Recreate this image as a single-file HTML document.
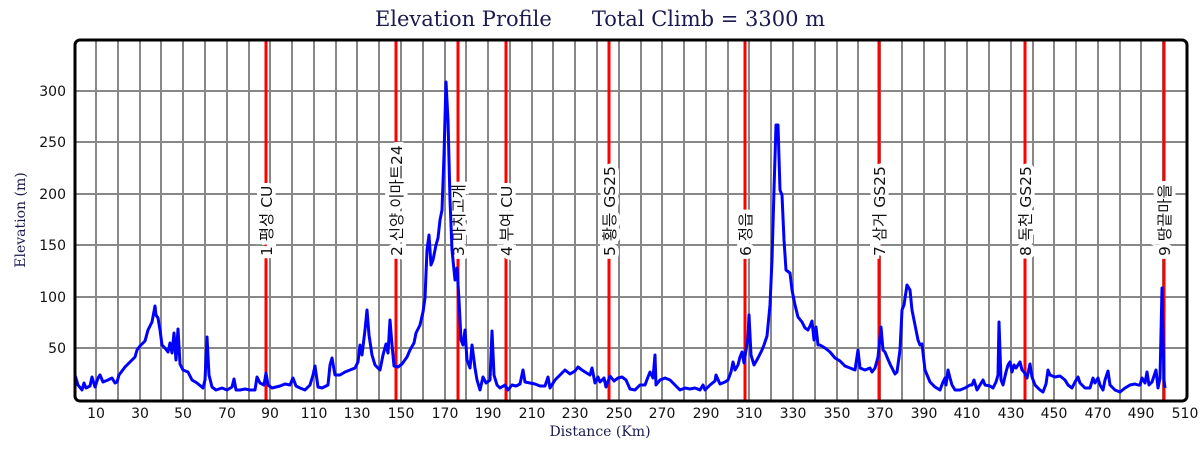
<!DOCTYPE html>
<html><head><meta charset="utf-8"><style>html,body{margin:0;padding:0;background:#fff;}svg{display:block}</style></head>
<body>
<svg width="1200" height="450" viewBox="0 0 1200 450" xmlns="http://www.w3.org/2000/svg">
<rect width="1200" height="450" fill="#fff"/>
<text x="600" y="26" text-anchor="middle" font-family="DejaVu Serif, serif" font-size="21" fill="#1a1a50" style="white-space:pre">Elevation Profile      Total Climb = 3300 m</text>
<g stroke="#888" stroke-width="2">
<line x1="96" y1="40" x2="96" y2="400"/><line x1="118" y1="40" x2="118" y2="400"/><line x1="140" y1="40" x2="140" y2="400"/><line x1="161" y1="40" x2="161" y2="400"/><line x1="183" y1="40" x2="183" y2="400"/><line x1="205" y1="40" x2="205" y2="400"/><line x1="227" y1="40" x2="227" y2="400"/><line x1="249" y1="40" x2="249" y2="400"/><line x1="270" y1="40" x2="270" y2="400"/><line x1="292" y1="40" x2="292" y2="400"/><line x1="314" y1="40" x2="314" y2="400"/><line x1="336" y1="40" x2="336" y2="400"/><line x1="357" y1="40" x2="357" y2="400"/><line x1="379" y1="40" x2="379" y2="400"/><line x1="401" y1="40" x2="401" y2="400"/><line x1="423" y1="40" x2="423" y2="400"/><line x1="445" y1="40" x2="445" y2="400"/><line x1="466" y1="40" x2="466" y2="400"/><line x1="488" y1="40" x2="488" y2="400"/><line x1="510" y1="40" x2="510" y2="400"/><line x1="532" y1="40" x2="532" y2="400"/><line x1="553" y1="40" x2="553" y2="400"/><line x1="575" y1="40" x2="575" y2="400"/><line x1="597" y1="40" x2="597" y2="400"/><line x1="619" y1="40" x2="619" y2="400"/><line x1="641" y1="40" x2="641" y2="400"/><line x1="662" y1="40" x2="662" y2="400"/><line x1="684" y1="40" x2="684" y2="400"/><line x1="706" y1="40" x2="706" y2="400"/><line x1="728" y1="40" x2="728" y2="400"/><line x1="749" y1="40" x2="749" y2="400"/><line x1="771" y1="40" x2="771" y2="400"/><line x1="793" y1="40" x2="793" y2="400"/><line x1="815" y1="40" x2="815" y2="400"/><line x1="837" y1="40" x2="837" y2="400"/><line x1="858" y1="40" x2="858" y2="400"/><line x1="880" y1="40" x2="880" y2="400"/><line x1="902" y1="40" x2="902" y2="400"/><line x1="924" y1="40" x2="924" y2="400"/><line x1="945" y1="40" x2="945" y2="400"/><line x1="967" y1="40" x2="967" y2="400"/><line x1="989" y1="40" x2="989" y2="400"/><line x1="1011" y1="40" x2="1011" y2="400"/><line x1="1033" y1="40" x2="1033" y2="400"/><line x1="1054" y1="40" x2="1054" y2="400"/><line x1="1076" y1="40" x2="1076" y2="400"/><line x1="1098" y1="40" x2="1098" y2="400"/><line x1="1120" y1="40" x2="1120" y2="400"/><line x1="1141" y1="40" x2="1141" y2="400"/><line x1="1163" y1="40" x2="1163" y2="400"/>
<line x1="75" y1="91" x2="1187" y2="91"/><line x1="75" y1="142" x2="1187" y2="142"/><line x1="75" y1="194" x2="1187" y2="194"/><line x1="75" y1="245" x2="1187" y2="245"/><line x1="75" y1="297" x2="1187" y2="297"/><line x1="75" y1="348" x2="1187" y2="348"/>
</g>
<g stroke="#f00" stroke-width="3">
<line x1="266" y1="40" x2="266" y2="400"/><line x1="396" y1="40" x2="396" y2="400"/><line x1="458" y1="40" x2="458" y2="400"/><line x1="506" y1="40" x2="506" y2="400"/><line x1="609" y1="40" x2="609" y2="400"/><line x1="745" y1="40" x2="745" y2="400"/><line x1="879" y1="40" x2="879" y2="400"/><line x1="1025" y1="40" x2="1025" y2="400"/><line x1="1164" y1="40" x2="1164" y2="400"/>
</g>
<g font-family="DejaVu Sans, Noto Sans CJK KR, sans-serif" font-size="15.5" fill="#111">
<g transform="translate(272,256) rotate(-90)"><text x="0" y="0" style="paint-order:stroke" stroke="#fff" stroke-width="8">1 평성 CU</text></g>
<g transform="translate(402,256) rotate(-90)"><text x="0" y="0" style="paint-order:stroke" stroke="#fff" stroke-width="8">2 신양 이마트24</text></g>
<g transform="translate(464,256) rotate(-90)"><text x="0" y="0" style="paint-order:stroke" stroke="#fff" stroke-width="8">3 마치고개</text></g>
<g transform="translate(512,256) rotate(-90)"><text x="0" y="0" style="paint-order:stroke" stroke="#fff" stroke-width="8">4 부여 CU</text></g>
<g transform="translate(615,256) rotate(-90)"><text x="0" y="0" style="paint-order:stroke" stroke="#fff" stroke-width="8">5 황등 GS25</text></g>
<g transform="translate(751,256) rotate(-90)"><text x="0" y="0" style="paint-order:stroke" stroke="#fff" stroke-width="8">6 정읍</text></g>
<g transform="translate(885,256) rotate(-90)"><text x="0" y="0" style="paint-order:stroke" stroke="#fff" stroke-width="8">7 삼거 GS25</text></g>
<g transform="translate(1031,256) rotate(-90)"><text x="0" y="0" style="paint-order:stroke" stroke="#fff" stroke-width="8">8 독천 GS25</text></g>
<g transform="translate(1170,256) rotate(-90)"><text x="0" y="0" style="paint-order:stroke" stroke="#fff" stroke-width="8">9 땅끝마을</text></g>
</g>
<polyline fill="none" stroke="#0000ff" stroke-width="3" stroke-linejoin="round" points="75,375 78,385 82,390 84,383 86,388 90,386 92,377 95,387 98,378 100,375 103,382 108,380 112,378 115,383 117,382 119,375 125,367 130,362 135,357 137,350 140,346 145,341 148,330 152,322 155,306 156,315 158,318 160,330 162,345 165,348 168,352 170,343 172,353 174,333 176,360 178,329 180,364 183,370 188,372 192,380 197,383 203,388 205,380 207,337 209,375 212,387 216,390 222,388 227,390 232,387 234,379 236,390 240,390 245,389 250,390 255,390 257,377 260,383 264,385 266,373 268,385 272,388 280,386 285,384 290,385 293,378 296,386 300,388 305,390 310,385 313,375 315,366 318,387 322,388 328,385 330,365 332,358 335,375 340,375 345,372 350,370 355,368 358,362 360,345 362,355 365,330 367,310 369,335 372,355 375,365 380,370 383,355 386,344 388,353 390,320 392,345 394,366 398,367 402,364 407,357 410,350 414,343 416,333 420,325 423,312 425,298 427,250 429,235 431,265 433,260 436,245 438,238 440,220 442,210 444,155 446,82 448,120 450,200 452,250 455,280 457,268 459,300 461,340 463,345 465,330 467,360 470,368 472,345 475,368 477,380 480,390 483,377 486,383 490,380 492,331 494,375 497,385 500,388 505,385 508,390 512,385 516,386 520,384 523,370 525,382 530,383 535,384 540,386 545,386 548,377 550,388 555,380 560,375 565,370 570,374 575,371 578,367 582,370 585,372 590,375 592,368 595,383 598,377 600,382 604,378 606,387 610,376 614,381 618,378 622,377 626,380 630,389 635,390 640,385 645,385 648,377 650,372 653,378 655,355 656,385 660,380 665,378 670,380 675,385 680,390 685,388 690,389 695,388 700,390 703,385 705,390 710,385 715,381 716,375 720,384 725,382 728,380 731,372 733,362 735,370 738,365 740,357 742,352 744,363 746,350 748,338 749,315 751,355 754,365 758,358 762,350 764,345 767,336 770,305 772,260 774,190 776,125 778,125 780,190 782,195 784,240 786,270 790,273 792,290 795,305 798,317 802,322 805,328 808,330 810,326 812,321 814,340 816,327 818,345 820,345 825,348 830,352 835,358 840,361 845,366 850,368 855,370 858,350 860,368 865,370 870,368 872,372 875,368 878,357 881,327 883,350 885,352 887,357 890,364 895,374 897,372 900,350 902,310 904,305 907,285 910,290 912,310 915,325 918,340 920,345 922,344 925,370 930,382 935,387 940,390 943,382 945,378 946,385 948,370 950,378 952,385 955,390 960,390 965,388 970,385 972,385 974,380 977,390 980,385 983,380 985,385 990,386 993,388 996,382 998,375 999,322 1001,380 1003,385 1006,372 1008,365 1010,362 1012,372 1014,365 1016,368 1018,365 1020,362 1022,370 1024,372 1027,378 1030,364 1032,377 1035,385 1040,390 1043,392 1046,384 1048,370 1050,375 1055,377 1060,376 1065,380 1068,385 1072,388 1075,382 1078,377 1080,383 1085,388 1090,388 1093,378 1095,383 1098,378 1100,385 1103,390 1105,380 1108,371 1110,385 1115,390 1120,392 1125,388 1130,385 1135,384 1138,385 1140,385 1142,378 1145,383 1147,372 1149,385 1152,382 1156,370 1158,388 1160,378 1162,288 1164,380 1165,388"/>
<rect x="75" y="40" width="1112" height="361" rx="5" fill="none" stroke="#000" stroke-width="3"/>
<g font-family="DejaVu Sans, sans-serif" font-size="14" fill="#111" text-anchor="end">
<text x="66" y="96">300</text><text x="66" y="147">250</text><text x="66" y="199">200</text><text x="66" y="250">150</text><text x="66" y="302">100</text><text x="66" y="353">50</text>
</g>
<g font-family="DejaVu Sans, sans-serif" font-size="14" fill="#111" text-anchor="middle">
<text x="96" y="418">10</text><text x="140" y="418">30</text><text x="183" y="418">50</text><text x="227" y="418">70</text><text x="270" y="418">90</text><text x="314" y="418">110</text><text x="357" y="418">130</text><text x="401" y="418">150</text><text x="445" y="418">170</text><text x="488" y="418">190</text><text x="532" y="418">210</text><text x="575" y="418">230</text><text x="619" y="418">250</text><text x="662" y="418">270</text><text x="706" y="418">290</text><text x="749" y="418">310</text><text x="793" y="418">330</text><text x="837" y="418">350</text><text x="880" y="418">370</text><text x="924" y="418">390</text><text x="967" y="418">410</text><text x="1011" y="418">430</text><text x="1054" y="418">450</text><text x="1098" y="418">470</text><text x="1141" y="418">490</text><text x="1185" y="418">510</text>
</g>
<text x="600" y="436" text-anchor="middle" font-family="DejaVu Serif, serif" font-size="14" fill="#1a1a50">Distance (Km)</text>
<text transform="translate(25,220) rotate(-90)" text-anchor="middle" font-family="DejaVu Serif, serif" font-size="14" fill="#1a1a50">Elevation (m)</text>
</svg>
</body></html>
